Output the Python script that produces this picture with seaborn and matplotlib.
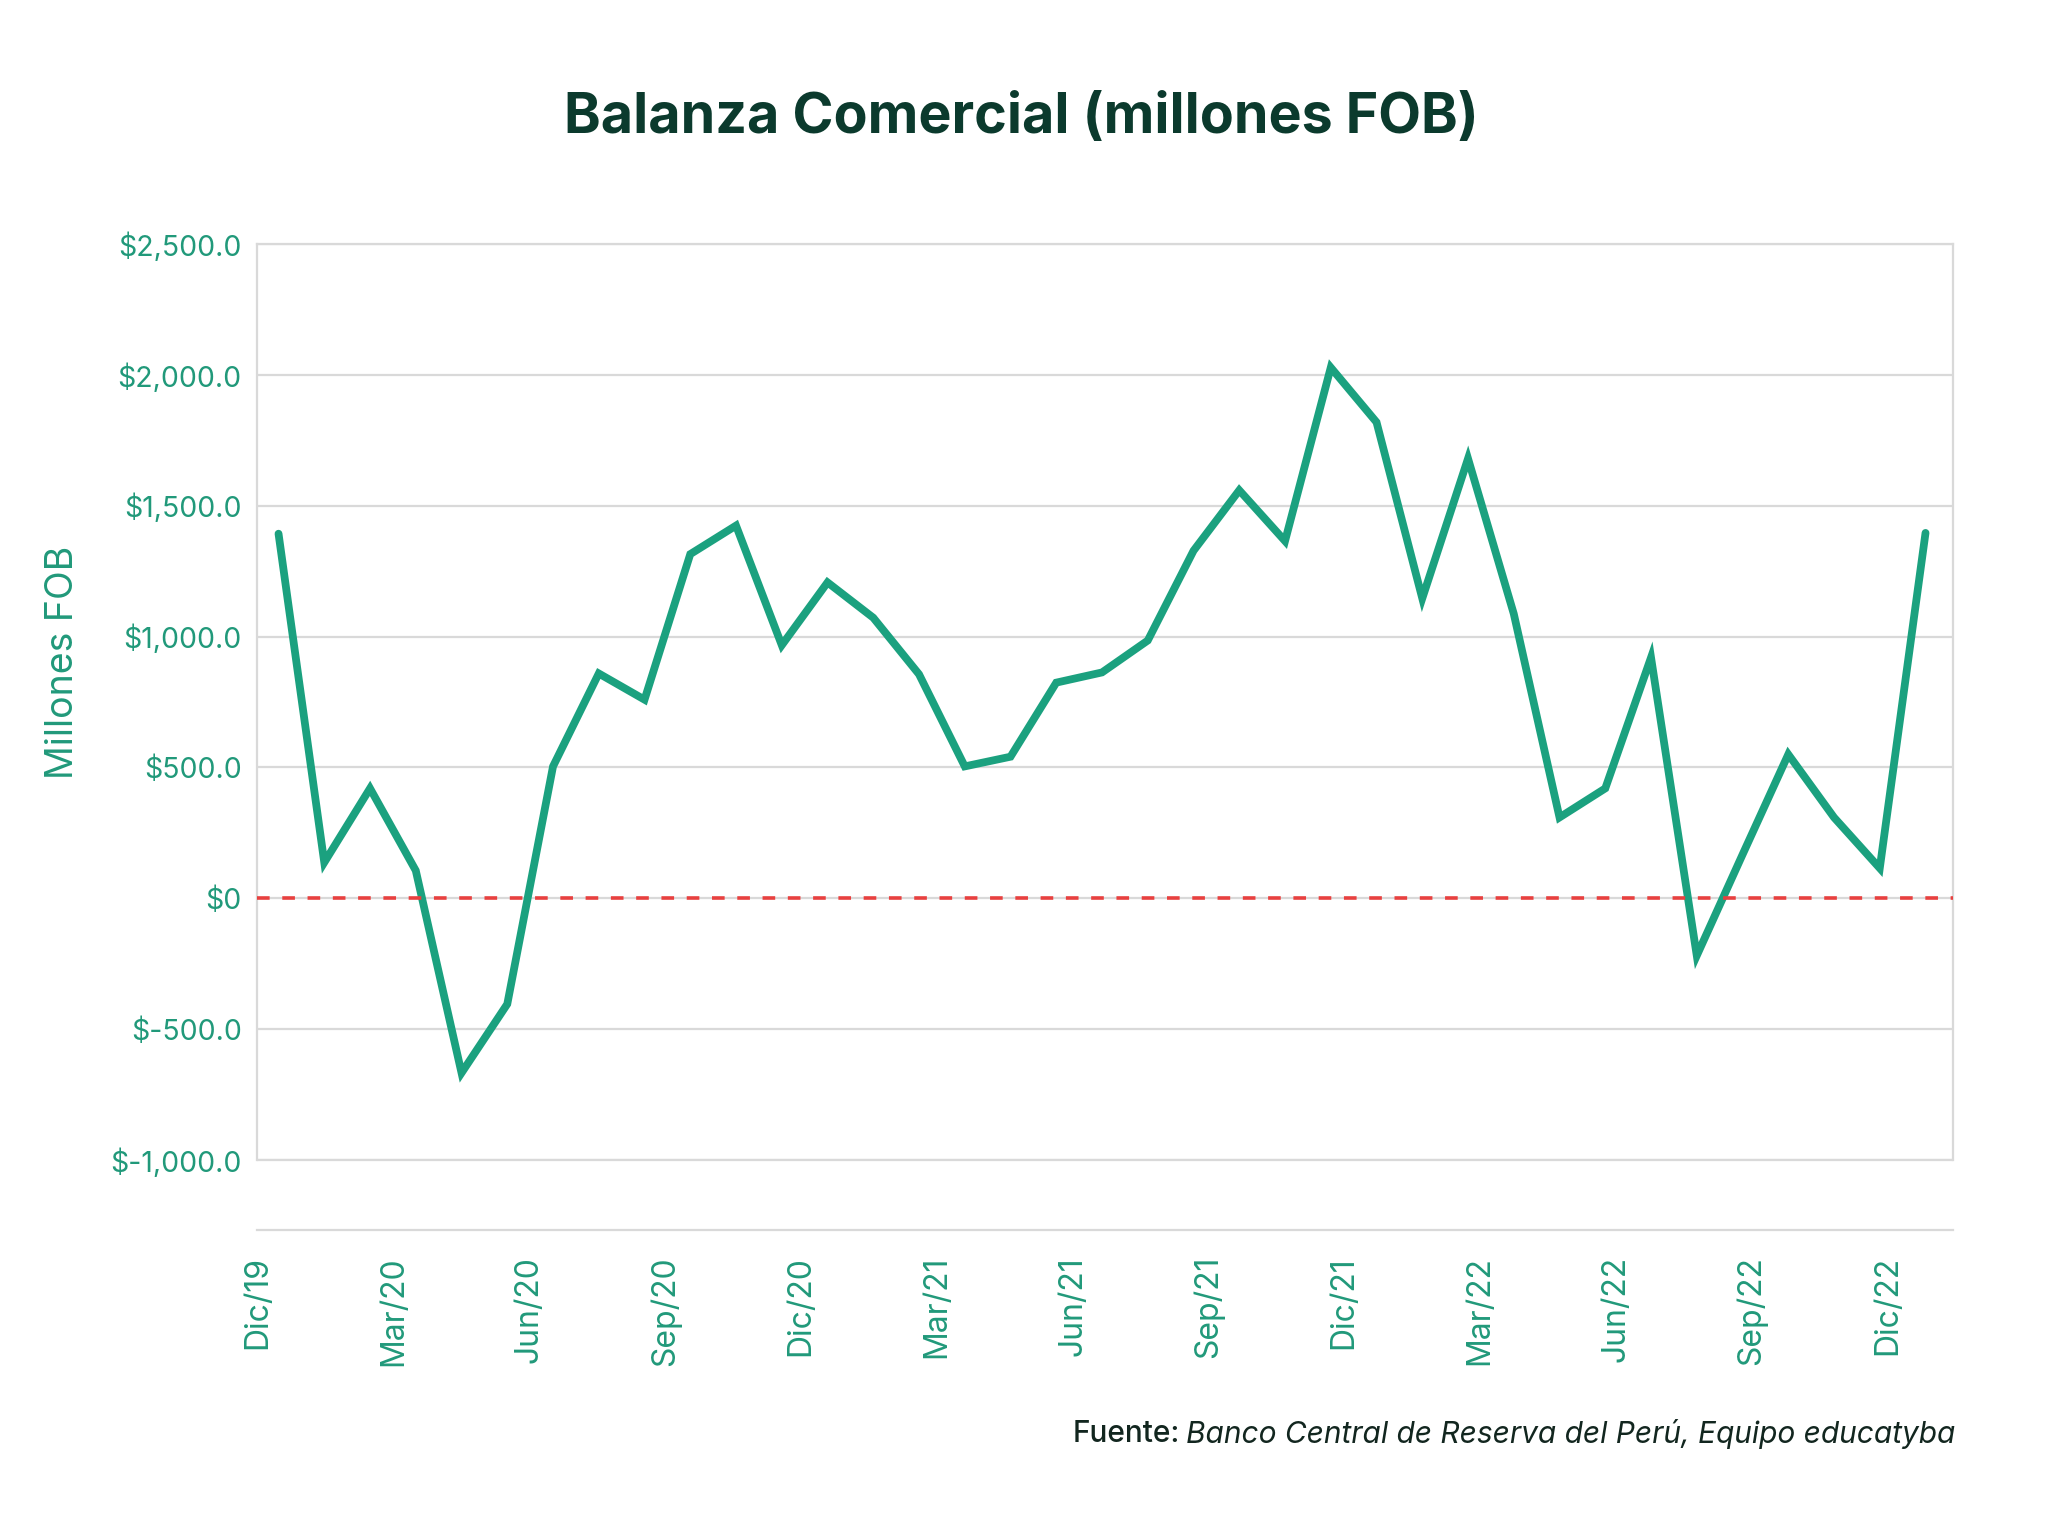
import numpy as np
import pandas as pd
import seaborn as sns
from matplotlib import pyplot as plt
from matplotlib.ticker import FuncFormatter

# balanza comercial mensual (millones US$ FOB), ene-20 .. ene-23
valores = [1393, 137, 420, 106, -667, -404, 504, 859, 759, 1315,
           1424, 967, 1207, 1072, 856, 504, 541, 824, 863, 985,
           1328, 1559, 1365, 2028, 1819, 1146, 1680, 1087, 309, 420,
           920, -219, 167, 550, 309, 115, 1396]
etiquetas_x = ["Dic/19", "Mar/20", "Jun/20", "Sep/20", "Dic/20", "Mar/21", "Jun/21",
               "Sep/21", "Dic/21", "Mar/22", "Jun/22", "Sep/22", "Dic/22"]
ticks_y = [-1000, -500, 0, 500, 1000, 1500, 2000, 2500]

VERDE = "#1ba17f"
TEXTO = "#21997a"
OSCURO = "#0b3a2d"
GRIS = "#d9d9d9"

sns.set_style("white")
plt.rcParams["font.family"] = ["Inter", "DejaVu Sans"]

df = pd.DataFrame({"mes": np.arange(len(valores)), "balanza": valores})

fig = plt.figure(figsize=(20.48, 15.19), dpi=100)
ax = fig.add_axes([0.1255, 0.2363, 0.8281, 0.6031])

sns.lineplot(data=df, x="mes", y="balanza", color=VERDE, linewidth=5.6, ax=ax,
             solid_joinstyle="miter", solid_capstyle="round")
ax.axhline(0, color="#e8403f", linestyle=(0, (3.5, 3.5)), linewidth=2.6, zorder=3)

ax.set_ylim(-1000, 2500)
ax.set_yticks(ticks_y)
ax.yaxis.set_major_formatter(FuncFormatter(lambda v, _: "$0" if v == 0 else f"${v:,.1f}"))
ax.set_xlim(-0.47, 36.6)
ax.set_xticks(np.linspace(-0.46, 35.17, len(etiquetas_x)))
ax.set_xticklabels(etiquetas_x)

ax.grid(axis="y", color=GRIS, linewidth=1.6)
ax.grid(axis="x", visible=False)
ax.axhline(-1000, color=GRIS, linewidth=1.6, clip_on=False, zorder=1)
for lado in ["left", "right", "top", "bottom"]:
    ax.spines[lado].set_color(GRIS)
    ax.spines[lado].set_linewidth(1.6)
ax.spines["bottom"].set_position(("outward", 50))

ax.tick_params(axis="y", length=0, pad=11, labelsize=20.5, labelcolor=TEXTO)
ax.tick_params(axis="x", length=7, width=1.6, color=GRIS, pad=12, labelsize=23,
               labelcolor=TEXTO, labelrotation=90)

ax.set_xlabel("")
ax.set_ylabel("Millones FOB", fontsize=27, color=TEXTO)
ax.yaxis.set_label_coords(-0.104, 0.543)

fig.text(0.4985, 0.922, "Balanza Comercial (millones FOB)", ha="center", va="center",
         fontsize=40, fontweight="bold", color=OSCURO)

fuente = fig.text(0.9546, 0.056, "Banco Central de Reserva del Perú, Equipo educatyba",
                  ha="right", va="center", fontsize=21.5, style="italic", color="#12261f")
fig.canvas.draw()
bb = fuente.get_window_extent().transformed(fig.transFigure.inverted())
fig.text(bb.x0 - 0.003, 0.056, "Fuente:", ha="right", va="center", fontsize=21.5,
         fontweight="medium", color="#12261f")

fig.savefig("out.png", dpi=100, facecolor="white")
